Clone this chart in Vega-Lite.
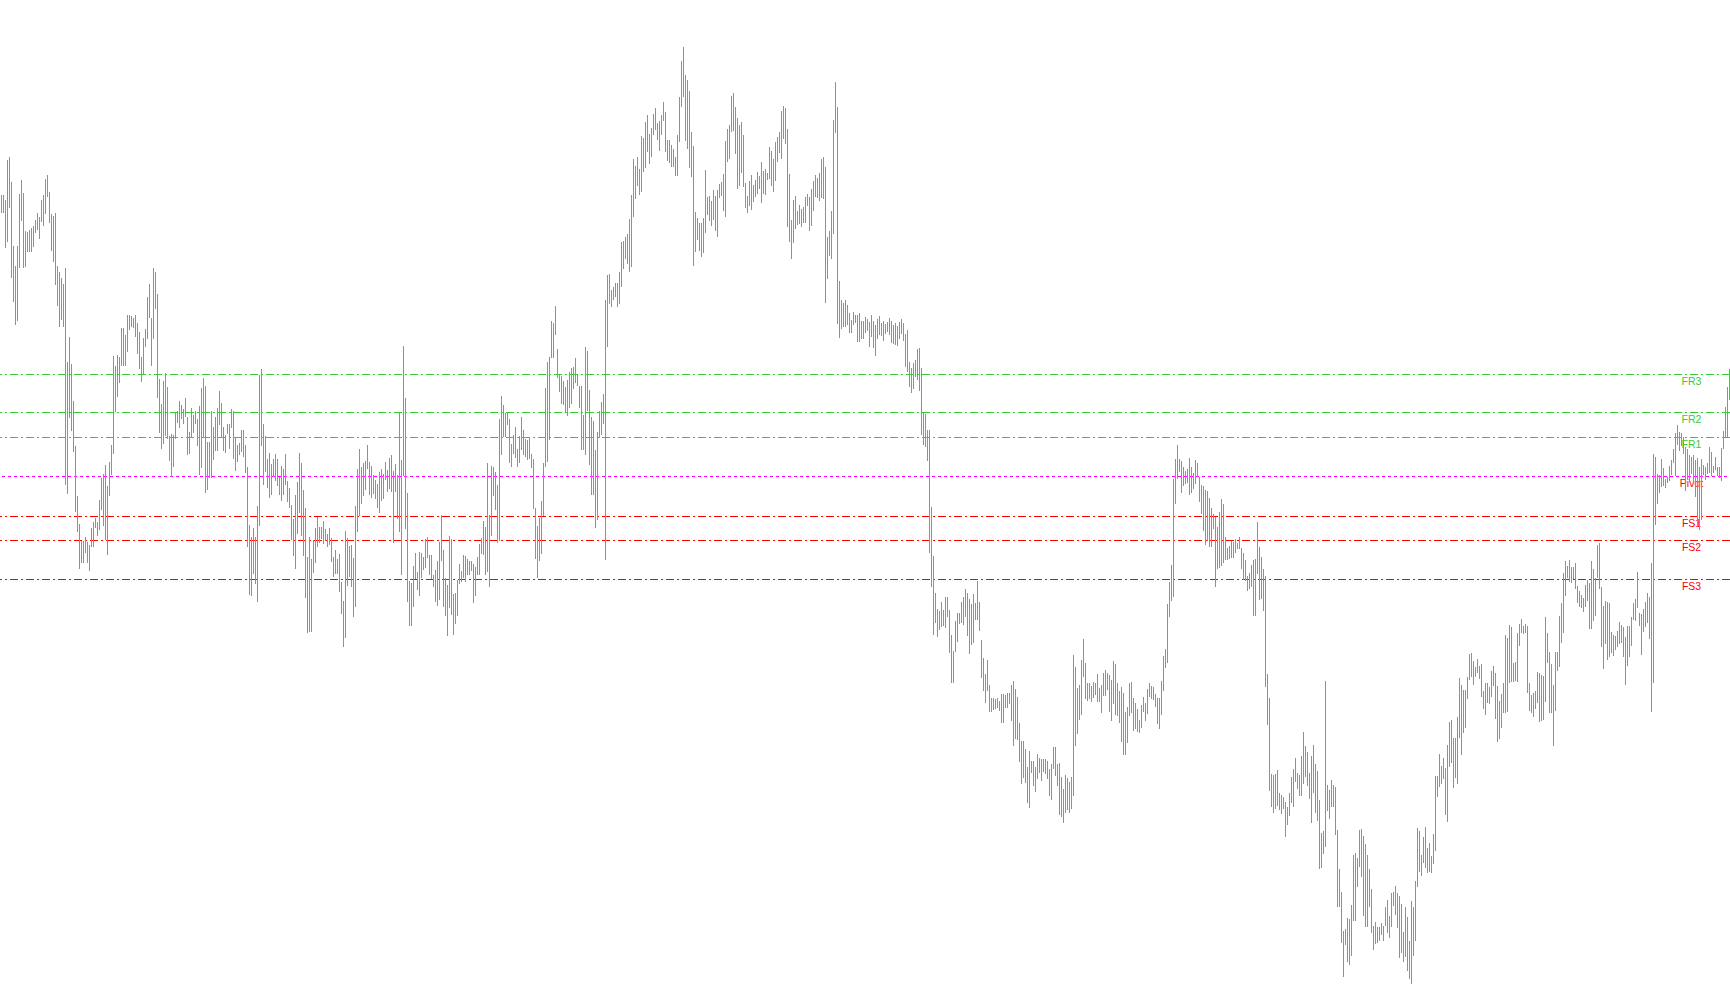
{
"$schema":"https://vega.github.io/schema/vega-lite/v6.json",
"width":1730,"height":1005,"padding":0,"autosize":{"type":"none"},
"background":"#ffffff",
"config":{"view":{"stroke":null}},
"datasets":{
"levels":[{"level":"FR3","price":630.5},{"level":"FR2","price":592.5},{"level":"FR1","price":567.5},{"level":"Pivot","price":528.5},{"level":"FS1","price":488.5},{"level":"FS2","price":464.5},{"level":"FS3","price":425.5}],
"bars":[
{"t":0,"h":810,"l":792},{"t":1,"h":810,"l":792},{"t":2,"h":805,"l":757},{"t":3,"h":845,"l":763},{"t":4,"h":848,"l":797},{"t":5,"h":823,"l":727},{"t":6,"h":759,"l":703},{"t":7,"h":739,"l":680},{"t":8,"h":759,"l":684},{"t":9,"h":811,"l":737},
{"t":10,"h":825,"l":784},{"t":11,"h":812,"l":737},{"t":12,"h":774,"l":738},{"t":13,"h":773,"l":753},{"t":14,"h":775,"l":753},{"t":15,"h":777,"l":753},{"t":16,"h":779,"l":758},{"t":17,"h":785,"l":772},{"t":18,"h":792,"l":775},{"t":19,"h":788,"l":766},
{"t":20,"h":805,"l":783},{"t":21,"h":810,"l":779},{"t":22,"h":826,"l":791},{"t":23,"h":830,"l":808},{"t":24,"h":813,"l":782},{"t":25,"h":791,"l":754},{"t":26,"h":789,"l":743},{"t":27,"h":792,"l":720},{"t":28,"h":739,"l":699},{"t":29,"h":733,"l":678},
{"t":30,"h":727,"l":685},{"t":31,"h":721,"l":678},{"t":32,"h":737,"l":520},{"t":33,"h":643,"l":511},{"t":34,"h":668,"l":587},{"t":35,"h":641,"l":574},{"t":36,"h":604,"l":553},{"t":37,"h":559,"l":493},{"t":38,"h":509,"l":473},{"t":39,"h":481,"l":436},
{"t":40,"h":464,"l":442},{"t":41,"h":464,"l":442},{"t":42,"h":468,"l":452},{"t":43,"h":463,"l":442},{"t":44,"h":460,"l":434},{"t":45,"h":477,"l":458},{"t":46,"h":483,"l":458},{"t":47,"h":487,"l":477},{"t":48,"h":483,"l":469},{"t":49,"h":505,"l":475},
{"t":50,"h":527,"l":495},{"t":51,"h":531,"l":479},{"t":52,"h":540,"l":465},{"t":53,"h":519,"l":450},{"t":54,"h":543,"l":509},{"t":55,"h":560,"l":530},{"t":56,"h":649,"l":551},{"t":57,"h":639,"l":593},{"t":58,"h":650,"l":608},{"t":59,"h":648,"l":622},
{"t":60,"h":677,"l":639},{"t":61,"h":677,"l":639},{"t":62,"h":670,"l":639},{"t":63,"h":690,"l":653},{"t":64,"h":690,"l":675},{"t":65,"h":689,"l":678},{"t":66,"h":687,"l":677},{"t":67,"h":690,"l":668},{"t":68,"h":682,"l":651},{"t":69,"h":673,"l":636},
{"t":70,"h":648,"l":623},{"t":71,"h":667,"l":631},{"t":72,"h":676,"l":658},{"t":73,"h":708,"l":666},{"t":74,"h":721,"l":687},{"t":75,"h":687,"l":639},{"t":76,"h":737,"l":666},{"t":77,"h":733,"l":696},{"t":78,"h":711,"l":607},{"t":79,"h":626,"l":572},
{"t":80,"h":601,"l":556},{"t":81,"h":624,"l":561},{"t":82,"h":632,"l":569},{"t":83,"h":618,"l":566},{"t":84,"h":569,"l":544},{"t":85,"h":571,"l":528},{"t":86,"h":570,"l":538},{"t":87,"h":592,"l":566},{"t":88,"h":594,"l":582},{"t":89,"h":604,"l":577},
{"t":90,"h":600,"l":586},{"t":91,"h":596,"l":581},{"t":92,"h":607,"l":588},{"t":93,"h":588,"l":550},{"t":94,"h":573,"l":551},{"t":95,"h":597,"l":568},{"t":96,"h":590,"l":572},{"t":97,"h":594,"l":581},{"t":98,"h":586,"l":559},{"t":99,"h":599,"l":530},
{"t":100,"h":617,"l":537},{"t":101,"h":627,"l":568},{"t":102,"h":619,"l":512},{"t":103,"h":563,"l":515},{"t":104,"h":563,"l":527},{"t":105,"h":594,"l":527},{"t":106,"h":578,"l":545},{"t":107,"h":588,"l":554},
{"t":108,"h":597,"l":554},{"t":109,"h":614,"l":580},{"t":110,"h":602,"l":568},{"t":111,"h":578,"l":554},{"t":112,"h":570,"l":552},{"t":113,"h":581,"l":571},{"t":114,"h":581,"l":556},{"t":115,"h":596,"l":577},{"t":116,"h":594,"l":546},{"t":117,"h":568,"l":534},
{"t":118,"h":560,"l":543},{"t":119,"h":562,"l":550},{"t":120,"h":575,"l":553},{"t":121,"h":575,"l":548},{"t":122,"h":560,"l":532},{"t":123,"h":538,"l":458},{"t":124,"h":480,"l":410},{"t":125,"h":468,"l":409},{"t":126,"h":477,"l":431},{"t":127,"h":468,"l":421},
{"t":128,"h":499,"l":403},{"t":129,"h":630,"l":479},{"t":130,"h":636,"l":559},{"t":131,"h":581,"l":520},{"t":132,"h":569,"l":533},{"t":133,"h":546,"l":517},{"t":134,"h":552,"l":507},{"t":135,"h":541,"l":510},{"t":136,"h":546,"l":528},{"t":137,"h":551,"l":524},
{"t":138,"h":546,"l":519},{"t":139,"h":528,"l":510},{"t":140,"h":539,"l":504},{"t":141,"h":536,"l":510},{"t":142,"h":551,"l":520},{"t":143,"h":524,"l":503},{"t":144,"h":517,"l":497},{"t":145,"h":500,"l":465},{"t":146,"h":486,"l":449},{"t":147,"h":510,"l":436},
{"t":148,"h":523,"l":471},{"t":149,"h":552,"l":492},{"t":150,"h":542,"l":469},{"t":151,"h":515,"l":449},{"t":152,"h":497,"l":407},{"t":153,"h":448,"l":372},{"t":154,"h":468,"l":373},{"t":155,"h":446,"l":373},{"t":156,"h":465,"l":432},{"t":157,"h":477,"l":442},
{"t":158,"h":488,"l":458},{"t":159,"h":478,"l":462},{"t":160,"h":478,"l":466},{"t":161,"h":484,"l":461},{"t":162,"h":476,"l":464},{"t":163,"h":471,"l":458},{"t":164,"h":477,"l":460},{"t":165,"h":467,"l":443},{"t":166,"h":448,"l":428},{"t":167,"h":455,"l":431},
{"t":168,"h":446,"l":431},{"t":169,"h":451,"l":413},{"t":170,"h":423,"l":391},{"t":171,"h":404,"l":358},{"t":172,"h":474,"l":367},{"t":173,"h":467,"l":419},{"t":174,"h":459,"l":428},{"t":175,"h":460,"l":418},{"t":176,"h":447,"l":388},{"t":177,"h":499,"l":398},
{"t":178,"h":536,"l":473},{"t":179,"h":556,"l":489},{"t":180,"h":538,"l":501},{"t":181,"h":542,"l":509},{"t":182,"h":544,"l":515},{"t":183,"h":560,"l":536},{"t":184,"h":543,"l":510},{"t":185,"h":539,"l":507},{"t":186,"h":530,"l":511},{"t":187,"h":525,"l":506},
{"t":188,"h":521,"l":497},{"t":189,"h":533,"l":492},{"t":190,"h":536,"l":504},{"t":191,"h":531,"l":506},{"t":192,"h":543,"l":525},{"t":193,"h":535,"l":513},{"t":194,"h":547,"l":516},{"t":195,"h":550,"l":513},{"t":196,"h":534,"l":462},{"t":197,"h":541,"l":513},
{"t":198,"h":530,"l":486},{"t":199,"h":592,"l":473},{"t":200,"h":545,"l":430},{"t":201,"h":659,"l":529},{"t":202,"h":607,"l":476},{"t":203,"h":512,"l":403},{"t":204,"h":424,"l":379},{"t":205,"h":422,"l":379},{"t":206,"h":439,"l":398},{"t":207,"h":452,"l":426},
{"t":208,"h":433,"l":415},{"t":209,"h":453,"l":409},{"t":210,"h":452,"l":427},{"t":211,"h":448,"l":435},{"t":212,"h":466,"l":437},{"t":213,"h":468,"l":447},{"t":214,"h":450,"l":430},{"t":215,"h":450,"l":426},
{"t":216,"h":430,"l":418},{"t":217,"h":435,"l":403},{"t":218,"h":444,"l":399},{"t":219,"h":463,"l":405},{"t":220,"h":490,"l":444},{"t":221,"h":455,"l":398},{"t":222,"h":427,"l":389},{"t":223,"h":420,"l":369},{"t":224,"h":469,"l":397},{"t":225,"h":466,"l":390},
{"t":226,"h":411,"l":370},{"t":227,"h":412,"l":381},{"t":228,"h":425,"l":389},{"t":229,"h":441,"l":421},{"t":230,"h":434,"l":423},{"t":231,"h":450,"l":427},{"t":232,"h":449,"l":423},{"t":233,"h":446,"l":430},{"t":234,"h":444,"l":430},{"t":235,"h":444,"l":434},
{"t":236,"h":441,"l":402},{"t":237,"h":438,"l":409},{"t":238,"h":448,"l":430},{"t":239,"h":461,"l":430},{"t":240,"h":467,"l":451},{"t":241,"h":484,"l":450},{"t":242,"h":478,"l":430},{"t":243,"h":542,"l":433},{"t":244,"h":490,"l":418},{"t":245,"h":539,"l":469},
{"t":246,"h":538,"l":509},{"t":247,"h":533,"l":495},{"t":248,"h":520,"l":462},{"t":249,"h":586,"l":464},{"t":250,"h":609,"l":550},{"t":251,"h":600,"l":568},{"t":252,"h":592,"l":568},{"t":253,"h":592,"l":580},{"t":254,"h":586,"l":542},{"t":255,"h":561,"l":538},
{"t":256,"h":570,"l":551},{"t":257,"h":578,"l":547},{"t":258,"h":556,"l":538},{"t":259,"h":569,"l":542},{"t":260,"h":588,"l":555},{"t":261,"h":575,"l":550},{"t":262,"h":566,"l":548},{"t":263,"h":565,"l":545},{"t":264,"h":567,"l":546},{"t":265,"h":551,"l":537},
{"t":266,"h":546,"l":496},{"t":267,"h":497,"l":446},{"t":268,"h":479,"l":427},{"t":269,"h":487,"l":444},{"t":270,"h":504,"l":451},{"t":271,"h":542,"l":489},{"t":272,"h":617,"l":538},{"t":273,"h":643,"l":543},{"t":274,"h":648,"l":565},{"t":275,"h":684,"l":647},
{"t":276,"h":682,"l":647},{"t":277,"h":699,"l":670},{"t":278,"h":656,"l":627},{"t":279,"h":630,"l":613},{"t":280,"h":629,"l":601},{"t":281,"h":624,"l":600},{"t":282,"h":618,"l":593},{"t":283,"h":625,"l":589},{"t":284,"h":633,"l":597},{"t":285,"h":637,"l":601},
{"t":286,"h":638,"l":616},{"t":287,"h":647,"l":622},{"t":288,"h":630,"l":619},{"t":289,"h":619,"l":597},{"t":290,"h":619,"l":555},{"t":291,"h":590,"l":555},{"t":292,"h":658,"l":550},{"t":293,"h":654,"l":594},{"t":294,"h":615,"l":540},{"t":295,"h":588,"l":510},
{"t":296,"h":584,"l":510},{"t":297,"h":555,"l":477},{"t":298,"h":573,"l":485},{"t":299,"h":594,"l":567},{"t":300,"h":603,"l":570},{"t":301,"h":611,"l":581},{"t":302,"h":705,"l":445},{"t":303,"h":730,"l":658},{"t":304,"h":731,"l":701},{"t":305,"h":715,"l":698},
{"t":306,"h":718,"l":705},{"t":307,"h":722,"l":708},{"t":308,"h":722,"l":698},{"t":309,"h":733,"l":701},{"t":310,"h":763,"l":718},{"t":311,"h":764,"l":736},{"t":312,"h":768,"l":746},{"t":313,"h":771,"l":741},{"t":314,"h":786,"l":733},{"t":315,"h":810,"l":738},
{"t":316,"h":846,"l":788},{"t":317,"h":839,"l":806},{"t":318,"h":848,"l":819},{"t":319,"h":836,"l":810},{"t":320,"h":869,"l":813},{"t":321,"h":867,"l":833},{"t":322,"h":883,"l":837},{"t":323,"h":890,"l":853},
{"t":324,"h":871,"l":841},{"t":325,"h":877,"l":848},{"t":326,"h":891,"l":870},{"t":327,"h":897,"l":875},{"t":328,"h":882,"l":865},{"t":329,"h":884,"l":854},{"t":330,"h":890,"l":870},{"t":331,"h":903,"l":884},{"t":332,"h":893,"l":853},{"t":333,"h":865,"l":844},
{"t":334,"h":865,"l":842},{"t":335,"h":860,"l":838},{"t":336,"h":856,"l":838},{"t":337,"h":848,"l":829},{"t":338,"h":870,"l":829},{"t":339,"h":908,"l":863},{"t":340,"h":944,"l":898},{"t":341,"h":958,"l":908},{"t":342,"h":930,"l":864},{"t":343,"h":925,"l":856},
{"t":344,"h":914,"l":837},{"t":345,"h":873,"l":828},{"t":346,"h":859,"l":739},{"t":347,"h":793,"l":753},{"t":348,"h":787,"l":765},{"t":349,"h":782,"l":754},{"t":350,"h":782,"l":748},{"t":351,"h":787,"l":752},{"t":352,"h":835,"l":772},{"t":353,"h":808,"l":790},
{"t":354,"h":809,"l":784},{"t":355,"h":804,"l":779},{"t":356,"h":815,"l":785},{"t":357,"h":809,"l":774},{"t":358,"h":815,"l":768},{"t":359,"h":821,"l":807},{"t":360,"h":823,"l":809},{"t":361,"h":831,"l":794},{"t":362,"h":864,"l":788},{"t":363,"h":876,"l":843},
{"t":364,"h":880,"l":846},{"t":365,"h":909,"l":873},{"t":366,"h":912,"l":874},{"t":367,"h":898,"l":851},{"t":368,"h":887,"l":816},{"t":369,"h":880,"l":819},{"t":370,"h":883,"l":832},{"t":371,"h":870,"l":818},{"t":372,"h":822,"l":797},{"t":373,"h":809,"l":792},
{"t":374,"h":824,"l":799},{"t":375,"h":830,"l":795},{"t":376,"h":820,"l":803},{"t":377,"h":825,"l":808},{"t":378,"h":833,"l":811},{"t":379,"h":829,"l":816},{"t":380,"h":843,"l":802},{"t":381,"h":834,"l":811},{"t":382,"h":836,"l":810},{"t":383,"h":832,"l":825},
{"t":384,"h":858,"l":826},{"t":385,"h":854,"l":819},{"t":386,"h":846,"l":813},{"t":387,"h":863,"l":824},{"t":388,"h":868,"l":843},{"t":389,"h":873,"l":852},{"t":390,"h":894,"l":846},{"t":391,"h":899,"l":866},{"t":392,"h":897,"l":861},{"t":393,"h":876,"l":778},
{"t":394,"h":831,"l":763},{"t":395,"h":785,"l":746},{"t":396,"h":805,"l":762},{"t":397,"h":809,"l":776},{"t":398,"h":794,"l":780},{"t":399,"h":800,"l":781},{"t":400,"h":796,"l":778},{"t":401,"h":798,"l":782},{"t":402,"h":808,"l":782},{"t":403,"h":811,"l":799},
{"t":404,"h":808,"l":774},{"t":405,"h":816,"l":779},{"t":406,"h":824,"l":794},{"t":407,"h":830,"l":808},{"t":408,"h":827,"l":807},{"t":409,"h":832,"l":804},{"t":410,"h":846,"l":807},{"t":411,"h":848,"l":806},{"t":412,"h":838,"l":702},{"t":413,"h":768,"l":726},
{"t":414,"h":774,"l":749},{"t":415,"h":794,"l":746},{"t":416,"h":885,"l":771},{"t":417,"h":923,"l":872},{"t":418,"h":898,"l":681},{"t":419,"h":724,"l":667},{"t":420,"h":705,"l":676},{"t":421,"h":702,"l":678},{"t":422,"h":705,"l":678},{"t":423,"h":700,"l":680},
{"t":424,"h":692,"l":672},{"t":425,"h":685,"l":672},{"t":426,"h":693,"l":680},{"t":427,"h":690,"l":682},{"t":428,"h":690,"l":663},{"t":429,"h":692,"l":663},{"t":430,"h":684,"l":666},{"t":431,"h":684,"l":666},
{"t":432,"h":688,"l":672},{"t":433,"h":686,"l":674},{"t":434,"h":683,"l":658},{"t":435,"h":690,"l":668},{"t":436,"h":684,"l":657},{"t":437,"h":680,"l":649},{"t":438,"h":686,"l":666},{"t":439,"h":689,"l":670},{"t":440,"h":682,"l":669},{"t":441,"h":684,"l":664},
{"t":442,"h":681,"l":671},{"t":443,"h":683,"l":673},{"t":444,"h":687,"l":670},{"t":445,"h":684,"l":662},{"t":446,"h":680,"l":661},{"t":447,"h":682,"l":660},{"t":448,"h":679,"l":659},{"t":449,"h":683,"l":666},{"t":450,"h":686,"l":671},{"t":451,"h":682,"l":664},
{"t":452,"h":671,"l":638},{"t":453,"h":675,"l":633},{"t":454,"h":643,"l":618},{"t":455,"h":637,"l":612},{"t":456,"h":642,"l":616},{"t":457,"h":645,"l":628},{"t":458,"h":656,"l":625},{"t":459,"h":657,"l":614},{"t":460,"h":637,"l":570},{"t":461,"h":592,"l":560},
{"t":462,"h":591,"l":558},{"t":463,"h":575,"l":544},{"t":464,"h":575,"l":452},{"t":465,"h":498,"l":418},{"t":466,"h":449,"l":370},{"t":467,"h":412,"l":382},{"t":468,"h":396,"l":368},{"t":469,"h":394,"l":375},{"t":470,"h":403,"l":378},{"t":471,"h":395,"l":379},
{"t":472,"h":408,"l":377},{"t":473,"h":408,"l":388},{"t":474,"h":395,"l":352},{"t":475,"h":370,"l":322},{"t":476,"h":354,"l":322},{"t":477,"h":384,"l":353},{"t":478,"h":392,"l":363},{"t":479,"h":392,"l":381},{"t":480,"h":403,"l":382},{"t":481,"h":408,"l":380},
{"t":482,"h":416,"l":388},{"t":483,"h":412,"l":369},{"t":484,"h":406,"l":351},{"t":485,"h":401,"l":360},{"t":486,"h":411,"l":362},{"t":487,"h":402,"l":385},{"t":488,"h":424,"l":385},{"t":489,"h":403,"l":374},{"t":490,"h":365,"l":327},{"t":491,"h":347,"l":314},
{"t":492,"h":331,"l":302},{"t":493,"h":345,"l":314},{"t":494,"h":320,"l":293},{"t":495,"h":307,"l":293},{"t":496,"h":307,"l":295},{"t":497,"h":306,"l":296},{"t":498,"h":307,"l":297},{"t":499,"h":304,"l":294},{"t":500,"h":311,"l":282},{"t":501,"h":311,"l":282},
{"t":502,"h":310,"l":297},{"t":503,"h":312,"l":297},{"t":504,"h":312,"l":301},{"t":505,"h":320,"l":284},{"t":506,"h":324,"l":259},{"t":507,"h":316,"l":266},{"t":508,"h":308,"l":265},{"t":509,"h":282,"l":243},{"t":510,"h":264,"l":221},{"t":511,"h":264,"l":227},
{"t":512,"h":256,"l":222},{"t":513,"h":238,"l":202},{"t":514,"h":254,"l":197},{"t":515,"h":244,"l":232},{"t":516,"h":244,"l":219},{"t":517,"h":238,"l":213},{"t":518,"h":251,"l":226},{"t":519,"h":247,"l":232},{"t":520,"h":246,"l":224},{"t":521,"h":246,"l":233},
{"t":522,"h":246,"l":231},{"t":523,"h":244,"l":226},{"t":524,"h":236,"l":209},{"t":525,"h":241,"l":205},{"t":526,"h":258,"l":236},{"t":527,"h":258,"l":229},{"t":528,"h":241,"l":219},{"t":529,"h":242,"l":190},{"t":530,"h":228,"l":188},{"t":531,"h":216,"l":182},
{"t":532,"h":230,"l":192},{"t":533,"h":227,"l":195},{"t":534,"h":223,"l":192},{"t":535,"h":228,"l":196},{"t":536,"h":350,"l":209},{"t":537,"h":338,"l":259},{"t":538,"h":317,"l":271},{"t":539,"h":320,"l":285},
{"t":540,"h":345,"l":290},{"t":541,"h":366,"l":328},{"t":542,"h":342,"l":306},{"t":543,"h":322,"l":304},{"t":544,"h":322,"l":306},{"t":545,"h":319,"l":303},{"t":546,"h":323,"l":307},{"t":547,"h":322,"l":310},{"t":548,"h":331,"l":303},{"t":549,"h":317,"l":303},
{"t":550,"h":320,"l":292},{"t":551,"h":332,"l":309},{"t":552,"h":335,"l":309},{"t":553,"h":332,"l":315},{"t":554,"h":330,"l":293},{"t":555,"h":325,"l":284},{"t":556,"h":344,"l":301},{"t":557,"h":341,"l":290},{"t":558,"h":322,"l":289},{"t":559,"h":314,"l":282},
{"t":560,"h":318,"l":263},{"t":561,"h":312,"l":250},{"t":562,"h":293,"l":250},{"t":563,"h":298,"l":262},{"t":564,"h":322,"l":289},{"t":565,"h":323,"l":292},{"t":566,"h":307,"l":274},{"t":567,"h":302,"l":276},{"t":568,"h":296,"l":273},{"t":569,"h":285,"l":272},
{"t":570,"h":300,"l":277},{"t":571,"h":308,"l":293},{"t":572,"h":302,"l":284},{"t":573,"h":316,"l":291},{"t":574,"h":322,"l":308},{"t":575,"h":319,"l":306},{"t":576,"h":318,"l":305},{"t":577,"h":311,"l":298},{"t":578,"h":307,"l":281},{"t":579,"h":307,"l":276},
{"t":580,"h":324,"l":290},{"t":581,"h":349,"l":314},{"t":582,"h":356,"l":337},{"t":583,"h":401,"l":342},{"t":584,"h":423,"l":388},{"t":585,"h":440,"l":404},{"t":586,"h":526,"l":408},{"t":587,"h":546,"l":501},{"t":588,"h":560,"l":526},{"t":589,"h":546,"l":533},
{"t":590,"h":544,"l":512},{"t":591,"h":538,"l":519},{"t":592,"h":534,"l":521},{"t":593,"h":536,"l":522},{"t":594,"h":547,"l":510},{"t":595,"h":538,"l":512},{"t":596,"h":532,"l":516},{"t":597,"h":545,"l":521},{"t":598,"h":542,"l":528},{"t":599,"h":528,"l":503},
{"t":600,"h":520,"l":491},{"t":601,"h":519,"l":474},{"t":602,"h":515,"l":460},{"t":603,"h":514,"l":464},{"t":604,"h":507,"l":458},{"t":605,"h":497,"l":458},{"t":606,"h":491,"l":476},{"t":607,"h":488,"l":418},{"t":608,"h":478,"l":436},{"t":609,"h":493,"l":437},
{"t":610,"h":506,"l":439},{"t":611,"h":501,"l":442},{"t":612,"h":468,"l":445},{"t":613,"h":457,"l":445},{"t":614,"h":459,"l":446},{"t":615,"h":464,"l":447},{"t":616,"h":463,"l":447},{"t":617,"h":466,"l":452},{"t":618,"h":462,"l":456},{"t":619,"h":468,"l":456},
{"t":620,"h":457,"l":436},{"t":621,"h":452,"l":425},{"t":622,"h":445,"l":424},{"t":623,"h":429,"l":414},{"t":624,"h":432,"l":416},{"t":625,"h":440,"l":418},{"t":626,"h":445,"l":389},{"t":627,"h":446,"l":389},{"t":628,"h":483,"l":431},{"t":629,"h":458,"l":405},
{"t":630,"h":448,"l":406},{"t":631,"h":436,"l":394},{"t":632,"h":429,"l":318},{"t":633,"h":331,"l":280},{"t":634,"h":307,"l":214},{"t":635,"h":231,"l":198},{"t":636,"h":230,"l":192},{"t":637,"h":231,"l":196},{"t":638,"h":235,"l":199},{"t":639,"h":212,"l":195},
{"t":640,"h":210,"l":191},{"t":641,"h":208,"l":196},{"t":642,"h":203,"l":168},{"t":643,"h":198,"l":180},{"t":644,"h":212,"l":189},{"t":645,"h":228,"l":202},{"t":646,"h":236,"l":198},{"t":647,"h":247,"l":223},
{"t":648,"h":232,"l":216},{"t":649,"h":230,"l":209},{"t":650,"h":249,"l":209},{"t":651,"h":273,"l":221},{"t":652,"h":259,"l":228},{"t":653,"h":253,"l":219},{"t":654,"h":232,"l":206},{"t":655,"h":249,"l":182},{"t":656,"h":260,"l":212},{"t":657,"h":241,"l":192},
{"t":658,"h":234,"l":184},{"t":659,"h":205,"l":136},{"t":660,"h":172,"l":137},{"t":661,"h":174,"l":151},{"t":662,"h":324,"l":158},{"t":663,"h":220,"l":194},{"t":664,"h":215,"l":186},{"t":665,"h":225,"l":198},{"t":666,"h":220,"l":198},{"t":667,"h":218,"l":170},
{"t":668,"h":175,"l":98},{"t":669,"h":136,"l":98},{"t":670,"h":113,"l":62},{"t":671,"h":74,"l":28},{"t":672,"h":76,"l":60},{"t":673,"h":87,"l":43},{"t":674,"h":86,"l":40},{"t":675,"h":100,"l":49},{"t":676,"h":150,"l":84},{"t":677,"h":152,"l":84},
{"t":678,"h":147,"l":118},{"t":679,"h":175,"l":138},{"t":680,"h":176,"l":128},{"t":681,"h":169,"l":89},{"t":682,"h":161,"l":78},{"t":683,"h":150,"l":78},{"t":684,"h":136,"l":98},{"t":685,"h":116,"l":72},{"t":686,"h":79,"l":55},{"t":687,"h":83,"l":61},
{"t":688,"h":78,"l":62},{"t":689,"h":78,"l":64},{"t":690,"h":82,"l":70},{"t":691,"h":79,"l":64},{"t":692,"h":98,"l":79},{"t":693,"h":105,"l":72},{"t":694,"h":89,"l":67},{"t":695,"h":112,"l":78},{"t":696,"h":113,"l":99},{"t":697,"h":119,"l":90},
{"t":698,"h":112,"l":77},{"t":699,"h":109,"l":47},{"t":700,"h":101,"l":52},{"t":701,"h":73,"l":43},{"t":702,"h":98,"l":48},{"t":703,"h":88,"l":34},{"t":704,"h":64,"l":26},{"t":705,"h":104,"l":21},{"t":706,"h":98,"l":49},{"t":707,"h":124,"l":64},
{"t":708,"h":177,"l":118},{"t":709,"h":174,"l":133},{"t":710,"h":150,"l":129},{"t":711,"h":168,"l":142},{"t":712,"h":178,"l":137},{"t":713,"h":157,"l":132},{"t":714,"h":162,"l":133},{"t":715,"h":149,"l":132},{"t":716,"h":171,"l":141},{"t":717,"h":229,"l":154},
{"t":718,"h":229,"l":208},{"t":719,"h":251,"l":218},{"t":720,"h":239,"l":221},{"t":721,"h":247,"l":226},{"t":722,"h":237,"l":190},{"t":723,"h":260,"l":183},{"t":724,"h":283,"l":238},{"t":725,"h":285,"l":242},{"t":726,"h":267,"l":217},{"t":727,"h":267,"l":227},
{"t":728,"h":288,"l":221},{"t":729,"h":327,"l":267},{"t":730,"h":320,"l":250},{"t":731,"h":315,"l":272},{"t":732,"h":315,"l":277},{"t":733,"h":328,"l":306},{"t":734,"h":351,"l":325},{"t":735,"h":352,"l":328},{"t":736,"h":344,"l":320},{"t":737,"h":338,"l":328},
{"t":738,"h":346,"l":332},{"t":739,"h":339,"l":326},{"t":740,"h":341,"l":308},{"t":741,"h":314,"l":296},{"t":742,"h":322,"l":290},{"t":743,"h":322,"l":302},{"t":744,"h":318,"l":301},{"t":745,"h":334,"l":308},{"t":746,"h":339,"l":319},{"t":747,"h":332,"l":286},
{"t":748,"h":319,"l":263},{"t":749,"h":304,"l":266},{"t":750,"h":311,"l":277},{"t":751,"h":322,"l":292},{"t":752,"h":370,"l":292},{"t":753,"h":367,"l":293},{"t":754,"h":380,"l":322},{"t":755,"h":378,"l":323},
{"t":756,"h":342,"l":323},{"t":757,"h":343,"l":324},{"t":758,"h":372,"l":323},{"t":759,"h":381,"l":359},{"t":760,"h":386,"l":372},{"t":761,"h":379,"l":371},{"t":762,"h":381,"l":372},{"t":763,"h":379,"l":312},{"t":764,"h":322,"l":294},{"t":765,"h":310,"l":292},
{"t":766,"h":312,"l":288},{"t":767,"h":314,"l":296},{"t":768,"h":333,"l":302},{"t":769,"h":332,"l":283},{"t":770,"h":330,"l":284},{"t":771,"h":329,"l":285},{"t":772,"h":388,"l":303},{"t":773,"h":372,"l":342},{"t":774,"h":353,"l":292},{"t":775,"h":341,"l":292},
{"t":776,"h":320,"l":259},{"t":777,"h":353,"l":294},{"t":778,"h":353,"l":334},{"t":779,"h":389,"l":338},{"t":780,"h":402,"l":362},{"t":781,"h":432,"l":372},{"t":782,"h":444,"l":409},{"t":783,"h":439,"l":427},{"t":784,"h":445,"l":423},{"t":785,"h":438,"l":422},
{"t":786,"h":438,"l":426},{"t":787,"h":442,"l":416},{"t":788,"h":419,"l":402},{"t":789,"h":414,"l":398},{"t":790,"h":410,"l":397},{"t":791,"h":407,"l":393},{"t":792,"h":420,"l":398},{"t":793,"h":425,"l":404},{"t":794,"h":422,"l":376},{"t":795,"h":444,"l":376},
{"t":796,"h":436,"l":384},{"t":797,"h":427,"l":389},{"t":798,"h":460,"l":427},{"t":799,"h":462,"l":416},{"t":800,"h":418,"l":358},{"t":801,"h":399,"l":336},{"t":802,"h":404,"l":361},{"t":803,"h":403,"l":345},{"t":804,"h":402,"l":348},{"t":805,"h":373,"l":352},
{"t":806,"h":370,"l":349},{"t":807,"h":369,"l":355},{"t":808,"h":374,"l":358},{"t":809,"h":383,"l":361},{"t":810,"h":380,"l":362},{"t":811,"h":378,"l":348},{"t":812,"h":368,"l":320},{"t":813,"h":379,"l":339},{"t":814,"h":379,"l":348},{"t":815,"h":388,"l":359},
{"t":816,"h":402,"l":385},{"t":817,"h":406,"l":384},{"t":818,"h":433,"l":397},{"t":819,"h":392,"l":379},{"t":820,"h":391,"l":350},{"t":821,"h":396,"l":373},{"t":822,"h":403,"l":378},{"t":823,"h":412,"l":382},{"t":824,"h":408,"l":366},{"t":825,"h":442,"l":293},
{"t":826,"h":551,"l":322},{"t":827,"h":548,"l":480},{"t":828,"h":531,"l":501},{"t":829,"h":530,"l":512},{"t":830,"h":546,"l":518},{"t":831,"h":537,"l":519},{"t":832,"h":526,"l":517},{"t":833,"h":528,"l":522},{"t":834,"h":539,"l":524},{"t":835,"h":545,"l":530},
{"t":836,"h":556,"l":542},{"t":837,"h":572,"l":529},{"t":838,"h":580,"l":560},{"t":839,"h":573,"l":554},{"t":840,"h":572,"l":559},{"t":841,"h":568,"l":551},{"t":842,"h":558,"l":514},{"t":843,"h":556,"l":526},{"t":844,"h":550,"l":524},{"t":845,"h":548,"l":531},
{"t":846,"h":550,"l":521},{"t":847,"h":545,"l":508},{"t":848,"h":547,"l":478},{"t":849,"h":538,"l":475},{"t":850,"h":546,"l":485},{"t":851,"h":540,"l":530},{"t":852,"h":538,"l":525},{"t":853,"h":542,"l":531},{"t":854,"h":558,"l":532},{"t":855,"h":553,"l":529},
{"t":856,"h":539,"l":532},{"t":857,"h":548,"l":535},{"t":858,"h":538,"l":529},{"t":859,"h":538,"l":527},{"t":860,"h":557,"l":524},{"t":861,"h":574,"l":556},{"t":862,"h":598,"l":567},{"t":863,"h":618,"l":568},{"t":864,"h":636,"l":605}
]},
"layer":[
{"data":{"name":"levels"},"transform":[{"filter":{"field":"level","oneOf":["FR3","FR2","FR1"]}}],
 "mark":{"type":"rule","strokeWidth":1,"stroke":"#32cd32","strokeDash":[8,3,2,3]},
 "encoding":{"y":{"field":"price","type":"quantitative","scale":{"domain":[0,1005],"nice":false,"zero":false},"axis":null}}},
{"data":{"name":"levels"},"transform":[{"filter":{"field":"level","oneOf":["Pivot"]}}],
 "mark":{"type":"rule","strokeWidth":1,"stroke":"#ff00ff","strokeDash":[3,3],"strokeDashOffset":3},
 "encoding":{"y":{"field":"price","type":"quantitative"}}},
{"data":{"name":"levels"},"transform":[{"filter":{"field":"level","oneOf":["FS1","FS2","FS3"]}}],
 "mark":{"type":"rule","strokeWidth":1,"stroke":"#ff0000","strokeDash":[8,3,2,3]},
 "encoding":{"y":{"field":"price","type":"quantitative"}}},
{"data":{"name":"levels"},"transform":[{"filter":{"field":"level","oneOf":["FR3","FR2","FR1"]}}],
 "mark":{"type":"text","font":"Liberation Sans","fontSize":10.5,"align":"center","baseline":"middle","dy":7,"fill":"#32cd32"},
 "encoding":{
  "x":{"datum":845,"type":"quantitative","scale":{"domain":[-0.75,864.25],"nice":false,"zero":false},"axis":null},
  "y":{"field":"price","type":"quantitative"},
  "text":{"field":"level","type":"nominal"}}},
{"data":{"name":"levels"},"transform":[{"filter":{"field":"level","oneOf":["Pivot","FS1","FS2","FS3"]}}],
 "mark":{"type":"text","font":"Liberation Sans","fontSize":10.5,"align":"center","baseline":"middle","dy":7,"fill":"#ff0000"},
 "encoding":{
  "x":{"datum":845,"type":"quantitative"},
  "y":{"field":"price","type":"quantitative"},
  "text":{"field":"level","type":"nominal"}}},
{"data":{"name":"bars"},"mark":{"type":"rule","strokeWidth":1,"stroke":"#22dd22"},
 "encoding":{
  "x":{"field":"t","type":"quantitative"},
  "y":{"field":"h","type":"quantitative"},
  "y2":{"field":"l"}}}
]
}
